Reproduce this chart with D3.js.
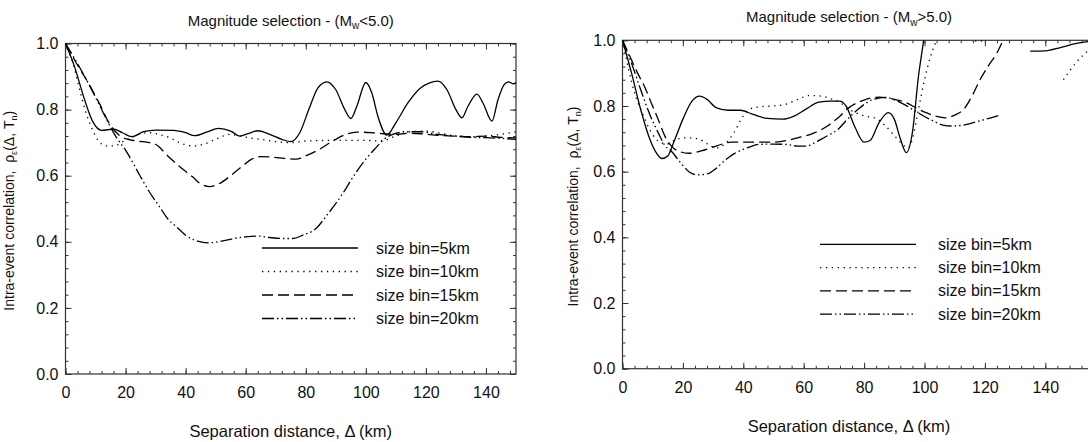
<!DOCTYPE html>
<html>
<head>
<meta charset="utf-8">
<script src="https://cdn.jsdelivr.net/npm/d3@7"></script>
<style>
    body { margin: 0; background: #fff; }
    svg { display: block; font-family: "Liberation Sans", Arial, sans-serif; }
</style>
</head>
<body>
<div id="chart"></div>
<script>
// series values, as [distance (km), correlation]
const leftBin5 = [[0,1.0],[3,0.93],[6,0.84],[9,0.765],[12,0.737],[16,0.741],[19,0.73],[22,0.718],[26,0.733],[30,0.738],[36,0.737],[40,0.73],[43,0.721],[47,0.732],[51,0.743],[55,0.735],[58,0.72],[61,0.728],[64,0.736],[68,0.725],[72,0.71],[75,0.703],[78,0.73],[81,0.8],[84,0.865],[87,0.884],[90,0.86],[93,0.8],[95,0.773],[97,0.81],[100,0.882],[102,0.85],[104,0.78],[107,0.723],[110,0.76],[114,0.82],[118,0.864],[121,0.88],[124,0.886],[127,0.86],[130,0.8],[132,0.775],[134,0.81],[137,0.847],[139,0.82],[142,0.765],[144,0.83],[146,0.875],[147.5,0.884],[149,0.878],[150,0.882]];
const leftBin10 = [[0,1.0],[2.6,0.937],[4.8,0.857],[6.5,0.8],[8.7,0.745],[11,0.705],[13.7,0.69],[16.4,0.69],[19,0.703],[22,0.715],[25,0.727],[28,0.73],[31,0.725],[34.7,0.715],[38,0.7],[42.5,0.69],[46,0.695],[50,0.71],[54.7,0.725],[58,0.72],[61,0.715],[65,0.71],[70,0.703],[75,0.7],[80,0.705],[90,0.707],[100,0.707],[105,0.705],[110,0.72],[115,0.733],[120,0.735],[125,0.728],[130,0.72],[135,0.718],[140,0.72],[145,0.725],[150,0.733]];
const leftBin15 = [[0,1.0],[3,0.95],[7,0.89],[11.5,0.815],[14.8,0.755],[17,0.73],[19.2,0.715],[23.6,0.705],[28,0.7],[30,0.695],[31.4,0.685],[33.5,0.665],[35.8,0.645],[39,0.62],[42.5,0.595],[45,0.575],[48,0.567],[51,0.575],[55,0.6],[59,0.63],[62,0.65],[65,0.658],[68,0.657],[72,0.653],[76.8,0.65],[80,0.66],[84.6,0.68],[89,0.705],[93.4,0.725],[97,0.732],[102,0.73],[106,0.727],[110,0.725],[114,0.728],[118.5,0.727],[124,0.722],[129,0.72],[135,0.718],[140,0.72],[145,0.716],[150,0.714]];
const leftBin20 = [[0,1.0],[3,0.955],[7,0.89],[11.5,0.81],[14.8,0.75],[17,0.715],[20.3,0.673],[24.8,0.6],[28,0.55],[31.4,0.505],[34,0.47],[37,0.445],[40,0.42],[42.5,0.407],[45,0.4],[48,0.397],[52,0.402],[56,0.41],[60,0.415],[64.6,0.417],[68,0.413],[72,0.41],[75.7,0.41],[79,0.42],[83.4,0.44],[87,0.48],[92.3,0.546],[96,0.6],[100,0.65],[103.4,0.685],[106,0.71],[109,0.725],[113,0.733],[118,0.733],[124,0.725],[130,0.72],[135,0.716],[140,0.715],[145,0.713],[150,0.71]];

const rightBin5 = [[0,1.0],[3,0.9],[6,0.79],[9,0.7],[11,0.66],[13,0.64],[15,0.648],[17,0.69],[20,0.76],[23,0.815],[25.6,0.83],[28,0.82],[31,0.795],[35,0.787],[39,0.787],[43,0.775],[48,0.762],[53,0.76],[57,0.77],[61,0.792],[65,0.812],[69,0.815],[72,0.815],[74,0.8],[77,0.735],[80,0.69],[82,0.695],[85,0.75],[88,0.78],[90,0.76],[92,0.7],[94,0.658],[96,0.72],[98,0.89],[100,1.02],[101,1.1],[102,null],[135,0.967],[140,0.968],[145,0.978],[150,0.99],[155,0.997]];
const rightBin10 = [[0,1.0],[4,0.84],[6.5,0.78],[9.5,0.72],[12.8,0.688],[15,0.685],[17.5,0.697],[21,0.703],[25,0.7],[28,0.685],[31,0.672],[34,0.685],[37,0.72],[40,0.77],[42.5,0.792],[46,0.798],[50,0.8],[54,0.805],[58,0.82],[62,0.832],[66,0.83],[69,0.822],[72,0.81],[75,0.79],[80,0.77],[84,0.762],[87,0.74],[90,0.71],[92.5,0.685],[94.6,0.673],[96,0.7],[98,0.79],[100,0.88],[102,0.95],[104,1.0],[106,1.04],[110,1.05],[114,1.01],[118,0.997],[122,1.01],[126,1.06],[127,null],[146,0.88],[150,0.93],[155,0.975]];
const rightBin15 = [[0,1.0],[3,0.94],[5,0.9],[7.5,0.855],[9.5,0.81],[12,0.755],[14,0.709],[16,0.68],[18.4,0.663],[22,0.656],[26,0.663],[29.4,0.673],[33,0.684],[36,0.69],[42,0.69],[50,0.69],[55,0.696],[58,0.703],[62,0.713],[65,0.724],[68,0.74],[71.4,0.764],[75,0.795],[80,0.818],[85,0.827],[89,0.822],[94,0.81],[98,0.79],[101,0.778],[104,0.768],[107,0.764],[110,0.772],[113,0.79],[116,0.835],[118.4,0.88],[121,0.92],[124,0.962],[126,1.0],[128,1.04]];
const rightBin20 = [[0,1.0],[3,0.93],[6,0.85],[9,0.775],[12,0.715],[14,0.68],[16.2,0.662],[19,0.63],[22,0.6],[24.8,0.59],[28,0.593],[31,0.61],[34,0.635],[37,0.655],[39.3,0.665],[42,0.675],[45,0.683],[50,0.684],[54,0.683],[58,0.678],[61,0.678],[64,0.69],[66,0.7],[69,0.715],[71.4,0.729],[74,0.755],[78,0.79],[83,0.82],[87,0.826],[91,0.815],[96,0.79],[100,0.768],[103,0.754],[106,0.742],[109.5,0.739],[113,0.742],[118,0.754],[122,0.764],[125,0.772]];

const legendLabels = ['size bin=5km', 'size bin=10km', 'size bin=15km', 'size bin=20km'];
const xTickValues = [0, 20, 40, 60, 80, 100, 120, 140];
const yTickValues = [0.0, 0.2, 0.4, 0.6, 0.8, 1.0];

const svgWidth = 1088;
const svgHeight = 442;

const svg = d3.select('#chart')
    .append('svg')
    .attr('width', svgWidth)
    .attr('height', svgHeight);

// line styles for the four bin sizes
const dashStyles = [null, '1.3,4.6', '11,5', '12,3,1.5,3,1.5,3'];

drawPanel({
    id: 'left',
    left: 65.5, right: 516, top: 43.5, bottom: 374,
    xMax: 150,
    title: '<5.0',
    series: [leftBin5, leftBin10, leftBin15, leftBin20],
    yLabelX: 14,
    legendX1: 262, legendX2: 358, legendTextX: 376, legendY: 248, legendStep: 23.5
});

drawPanel({
    id: 'right',
    left: 622.5, right: 1105.7, top: 40.3, bottom: 368.7,
    xMax: 160,
    title: '>5.0',
    series: [rightBin5, rightBin10, rightBin15, rightBin20],
    yLabelX: 578,
    legendX1: 820, legendX2: 916, legendTextX: 938, legendY: 244.3, legendStep: 23.3
});

function drawPanel(p) {
    const x = d3.scaleLinear().domain([0, p.xMax]).range([p.left, p.right]);
    const y = d3.scaleLinear().domain([0, 1]).range([p.bottom, p.top]);

    const g = svg.append('g');

    g.append('clipPath')
        .attr('id', 'clip-' + p.id)
        .append('rect')
        .attr('x', p.left)
        .attr('y', p.top)
        .attr('width', p.right - p.left)
        .attr('height', p.bottom - p.top);

    // minor + major ticks on all four sides, pointing inward
    const minorX = d3.range(0, p.xMax + 0.1, 4);
    const minorY = d3.range(0, 1.001, 0.04);

    const axes = [
        [d3.axisBottom(x), 'translate(0,' + p.bottom + ')', minorX, xTickValues, true],
        [d3.axisTop(x), 'translate(0,' + p.top + ')', minorX, xTickValues, false],
        [d3.axisLeft(y), 'translate(' + p.left + ',0)', minorY, yTickValues, true],
        [d3.axisRight(y), 'translate(' + p.right + ',0)', minorY, yTickValues, false]
    ];

    axes.forEach(([axis, transform, minor, major, labelled]) => {
        g.append('g')
            .attr('transform', transform)
            .call(axis.tickValues(minor).tickSize(-3).tickSizeOuter(0).tickFormat(''))
            .call(a => a.select('.domain').remove())
            .call(a => a.selectAll('line').attr('stroke', '#333'));

        const isY = major === yTickValues;
        g.append('g')
            .attr('transform', transform)
            .call(axis.tickValues(major).tickSize(-6).tickSizeOuter(0)
                .tickPadding(isY ? 7 : 13)
                .tickFormat(labelled ? (isY ? d3.format('.1f') : d3.format('d')) : ''))
            .call(a => a.select('.domain').remove())
            .call(a => a.selectAll('line').attr('stroke', '#333'))
            .call(a => a.selectAll('text')
                .attr('fill', '#111')
                .attr('font-size', 16)
                .attr('font-family', '"Liberation Sans", Arial, sans-serif'));
    });

    g.append('rect')
        .attr('x', p.left)
        .attr('y', p.top)
        .attr('width', p.right - p.left)
        .attr('height', p.bottom - p.top)
        .attr('fill', 'none')
        .attr('stroke', '#333')
        .attr('stroke-width', 1.2);

    const line = d3.line()
        .defined(d => d[1] !== null)
        .x(d => x(d[0]))
        .y(d => y(d[1]))
        .curve(d3.curveMonotoneX);

    const curves = g.append('g').attr('clip-path', 'url(#clip-' + p.id + ')');

    p.series.forEach((s, i) => {
        curves.append('path')
            .attr('d', line(s))
            .attr('fill', 'none')
            .attr('stroke', '#000')
            .attr('stroke-width', 1.3)
            .attr('stroke-dasharray', dashStyles[i]);
    });

    // legend
    legendLabels.forEach((label, i) => {
        const ly = p.legendY + i * p.legendStep;
        g.append('line')
            .attr('x1', p.legendX1)
            .attr('x2', p.legendX2)
            .attr('y1', ly)
            .attr('y2', ly)
            .attr('stroke', '#000')
            .attr('stroke-width', 1.3)
            .attr('stroke-dasharray', dashStyles[i]);
        g.append('text')
            .attr('x', p.legendTextX)
            .attr('y', ly + 5.5)
            .attr('font-size', 16)
            .attr('fill', '#111')
            .text(label);
    });

    const cx = x(75);

    // title with subscript w
    const title = g.append('text')
        .attr('x', cx)
        .attr('y', p.top - 18)
        .attr('text-anchor', 'middle')
        .attr('font-size', 15)
        .attr('fill', '#111');
    title.append('tspan').text('Magnitude selection - (M');
    title.append('tspan').attr('font-size', 10).attr('dy', 3.5).text('w');
    title.append('tspan').attr('dy', -3.5).text(p.title + ')');

    g.append('text')
        .attr('x', cx)
        .attr('y', p.bottom + 63)
        .attr('text-anchor', 'middle')
        .attr('font-size', 16.5)
        .attr('fill', '#111')
        .text('Separation distance, \u0394 (km)');

    const yl = g.append('text')
        .attr('transform', `translate(${p.yLabelX}, ${(p.top + p.bottom) / 2 + 2}) rotate(-90)`)
        .attr('text-anchor', 'middle')
        .attr('font-size', 14)
        .attr('fill', '#111');
    yl.append('tspan').text('Intra-event correlation,\u00a0\u00a0\u03c1');
    yl.append('tspan').attr('font-size', 9).attr('dy', 3).text('\u03b5');
    yl.append('tspan').attr('dy', -3).text('(\u0394, T');
    yl.append('tspan').attr('font-size', 9).attr('dy', 3).text('n');
    yl.append('tspan').attr('dy', -3).text(')');
}
</script>
</body>
</html>
